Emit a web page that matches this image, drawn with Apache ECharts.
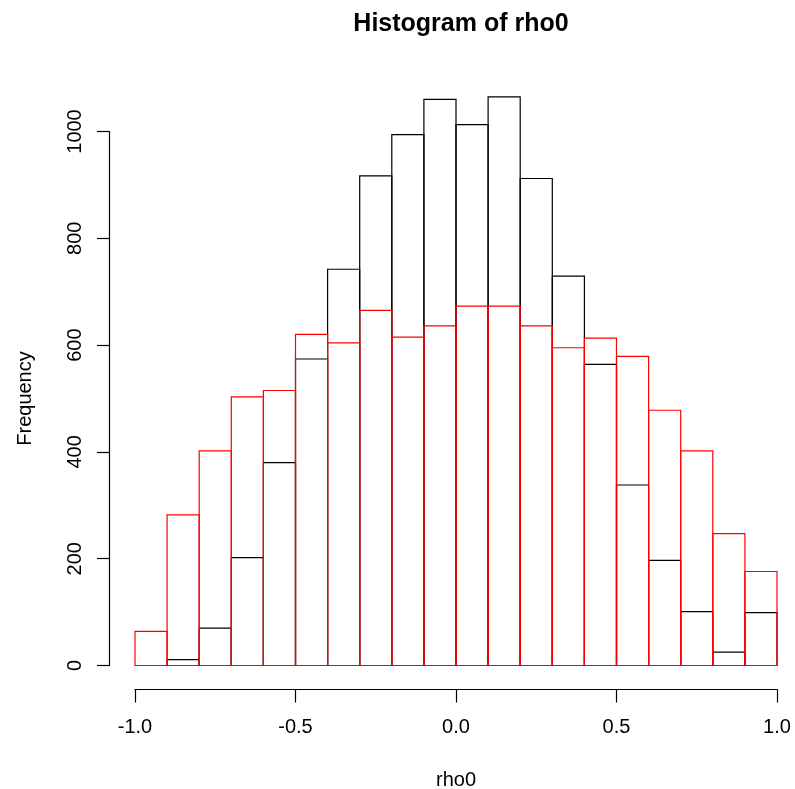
<!DOCTYPE html>
<html>
<head>
<meta charset="utf-8">
<script src="https://cdn.jsdelivr.net/npm/echarts@6/dist/echarts.min.js"></script>
<style>
  html, body { margin: 0; padding: 0; background: #fff; overflow: hidden; }
  #chart { width: 795px; height: 789px; }
</style>
</head>
<body>
<div id="chart"></div>
<script>
// Histogram bins: lower edges, common width
const binStarts = [-1.0, -0.9, -0.8, -0.7, -0.6, -0.5, -0.4, -0.3, -0.2, -0.1,
                    0.0,  0.1,  0.2,  0.3,  0.4,  0.5,  0.6,  0.7,  0.8,  0.9];
const binWidth = 0.1;

// Counts per bin for the two overlaid histograms
const blackCounts = [0, 11, 70, 202, 380, 574, 742, 917, 994, 1060,
                     1013, 1065, 912, 729, 564, 338, 197, 101, 25, 99];
const redCounts = [64, 282, 402, 503, 515, 620, 604, 665, 615, 636,
                   673, 673, 636, 595, 613, 579, 478, 402, 247, 176];

// Axis ticks
const xTicks = [-1.0, -0.5, 0.0, 0.5, 1.0];
const xTickLabels = ['-1.0', '-0.5', '0.0', '0.5', '1.0'];
const yTicks = [0, 200, 400, 600, 800, 1000];

const FONT = '"Liberation Sans", Arial, Helvetica, sans-serif';

function histData(counts) {
  return binStarts.map((s, i) => [s, s + binWidth, counts[i]]);
}

// Each bin is an unfilled outlined rectangle from the baseline to its count
function rectRenderer(color) {
  return function (params, api) {
    const p0 = api.coord([api.value(0), 0]);
    const p1 = api.coord([api.value(1), api.value(2)]);
    return {
      type: 'rect',
      shape: { x: p0[0], y: p1[1], width: p1[0] - p0[0], height: p0[1] - p1[1] },
      style: { fill: 'none', stroke: color, lineWidth: 1.2 }
    };
  };
}

const chart = echarts.init(document.getElementById('chart'), null, { renderer: 'canvas' });

chart.setOption({
  animation: false,
  backgroundColor: '#ffffff',
  title: {
    text: 'Histogram of rho0',
    left: 456,
    top: 7,
    textAlign: 'center',
    textStyle: { fontFamily: FONT, fontSize: 25, fontWeight: 'bold', color: '#000' }
  },
  grid: {
    left: 135, right: 18, top: 131.5, bottom: 123.5,
    containLabel: false,
    outerBoundsMode: 'none'
  },
  xAxis: {
    type: 'value',
    min: xTicks[0],
    max: xTicks[xTicks.length - 1],
    interval: 0.5,
    offset: 24,
    name: 'rho0',
    nameLocation: 'middle',
    nameGap: 81,
    nameTextStyle: { fontFamily: FONT, fontSize: 20, color: '#000' },
    axisLine: { show: true, onZero: false, lineStyle: { color: '#000', width: 1.2 } },
    axisTick: { show: true, length: 13, lineStyle: { color: '#000', width: 1.2 } },
    axisLabel: {
      margin: 28,
      fontFamily: FONT, fontSize: 20, color: '#000',
      formatter: v => {
        const i = xTicks.findIndex(t => Math.abs(t - v) < 1e-9);
        return i >= 0 ? xTickLabels[i] : '';
      }
    },
    splitLine: { show: false }
  },
  yAxis: {
    type: 'value',
    min: yTicks[0],
    max: yTicks[yTicks.length - 1],
    interval: 200,
    offset: 26,
    name: 'Frequency',
    nameLocation: 'middle',
    nameGap: 74,
    nameTextStyle: { fontFamily: FONT, fontSize: 20, color: '#000' },
    axisLine: { show: true, onZero: false, lineStyle: { color: '#000', width: 1.2 } },
    axisTick: { show: true, length: 12, lineStyle: { color: '#000', width: 1.2 } },
    axisLabel: {
      rotate: 90,
      margin: 24,
      fontFamily: FONT, fontSize: 20, color: '#000',
      formatter: v => String(v)
    },
    splitLine: { show: false }
  },
  series: [
    {
      name: 'rho0',
      type: 'custom',
      renderItem: rectRenderer('#000000'),
      encode: { x: [0, 1], y: 2 },
      data: histData(blackCounts),
      z: 2
    },
    {
      name: 'rho0 (red)',
      type: 'custom',
      renderItem: rectRenderer('#ff0000'),
      encode: { x: [0, 1], y: 2 },
      data: histData(redCounts),
      z: 3
    }
  ]
});
</script>
</body>
</html>
